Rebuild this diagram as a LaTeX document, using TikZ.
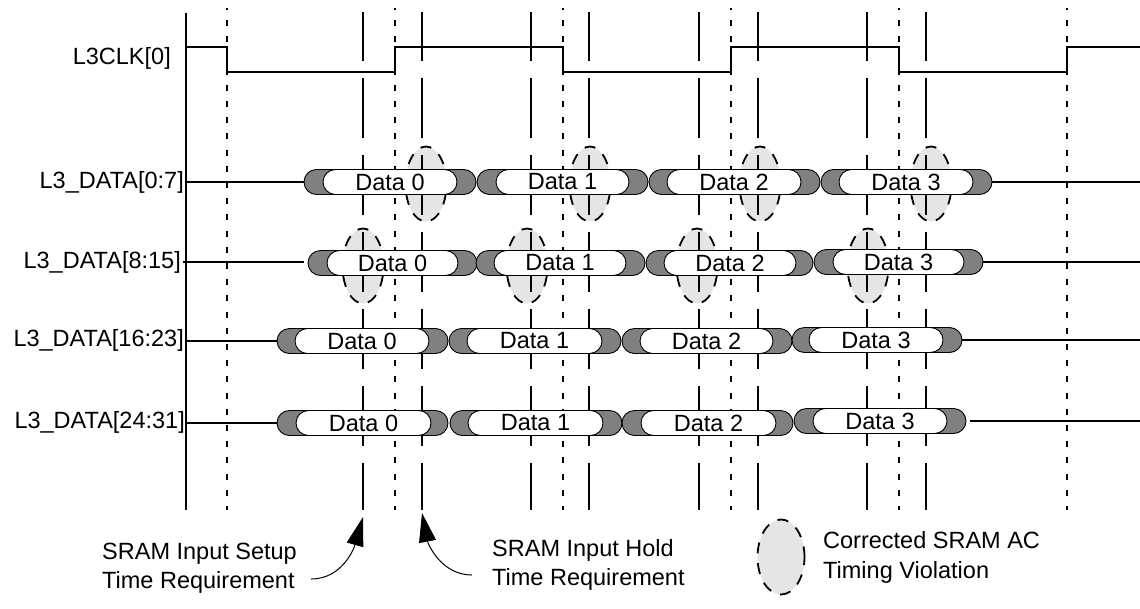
\documentclass[tikz,border=0pt]{standalone}
\usepackage{fontspec}
\setmainfont{Liberation Sans}
\usetikzlibrary{shapes.misc,arrows.meta,shapes.geometric}
\begin{document}
\begin{tikzpicture}[x=1pt,y=-1pt]
    \definecolor{bus_color}{RGB}{128,128,128}
    \definecolor{violation_color}{RGB}{229,229,229}
    \tikzstyle{every node} = [font=\fontsize{23.5}{29.5}\selectfont, inner sep=0pt]
    \tikzstyle{ann} = [draw=none, fill=none, text=black]
    \tikzstyle{sig} = [line width=1.6pt]
    \tikzstyle{edgeline} = [line width=1.6pt, dash pattern=on 6pt off 10.2pt, dash phase=4.2pt]
    \tikzstyle{setupline} = [line width=1.6pt, dash pattern=on 60pt off 17pt, dash phase=11pt]
    \tikzstyle{bus} = [draw=black, fill=bus_color, line width=0.9pt, shape=rounded rectangle, minimum height=25pt]
    \tikzstyle{cell} = [draw=black, fill=white, line width=0.9pt, shape=rounded rectangle, minimum height=25pt]
    \tikzstyle{viol} = [fill=violation_color, draw=black, line width=1.8pt, dash pattern=on 11pt off 9.7pt, dash phase=0.4pt, shape=ellipse, minimum width=41pt, minimum height=75pt]
    \path[use as bounding box] (0,0) rectangle (1140,608);
    % violation ellipses go under the timing lines
    \foreach \name/\xx/\yy in {a/426/184, b/590/184, c/760/184, d/931/184, e/363/266, f/527/266, g/697/266, h/868/266}
        \node[viol] (viol\name) at (\xx,\yy) {};
    \node[viol, minimum width=47pt] (violkey) at (781,557) {};
    % timing lines
    \foreach \xx in {227,395,563,731,899,1067}
        \draw[edgeline] (\xx,8) -- (\xx,510);
    \foreach \xx in {363,422,531,589,699,758,867,926}
        \draw[setupline] (\xx,12) -- (\xx,510);
    \draw[sig] (186,13) -- (186,510);
    % clock
    \coordinate (clkstart) at (187,47);
    \coordinate (clkend) at (1140,47);
    \draw[sig] (clkstart) -- (227,47) -- (227,72) -- (395,72) -- (395,47) -- (563,47) -- (563,72) -- (731,72) -- (731,47) -- (899,47) -- (899,72) -- (1067,72) -- (1067,47) -- (clkend);
    \node[ann, anchor=east] (l0) at (171,58) {L3CLK[0]};
    \node[ann, anchor=east] (l1) at (184,182) {L3\_DATA[0:7]};
    \node[ann, anchor=east] (l2) at (181,262) {L3\_DATA[8:15]};
    \node[ann, anchor=east] (l3) at (184,340) {L3\_DATA[16:23]};
    \node[ann, anchor=east] (l4) at (185,422) {L3\_DATA[24:31]};
    % bus cells: name/left/right/cell left/cell right/y/text
    \foreach \name/\la/\lb/\ca/\cb/\yy/\num in {
        aa/304/476/323/457/182/0, ab/477/648/496/629/182/1, ac/649/820/667/801/182/2, ad/821/992/839/973/182/3,
        ba/308/477/327/458/263/0, bb/476/645/494/626/263/1, bc/646/813/664/796/263/2, bd/814/983/833/964/262/3,
        ca/277/448/295/429/341/0, cb/449/621/467/602/341/1, cc/622/792/640/773/341/2, cd/792/962/809/943/340/3,
        da/277/448/296/431/423/0, db/450/622/468/603/423/1, dc/622/793/641/776/423/2, dd/794/966/813/947/421/3}
    {
        \pgfmathsetlengthmacro{\busw}{(\lb-\la)*1pt}
        \pgfmathsetlengthmacro{\cellw}{(\cb-\ca)*1pt}
        \node[bus, minimum width=\busw] (bus\name) at ({(\la+\lb)/2},\yy) {};
        \node[cell, minimum width=\cellw] (cell\name) at ({(\ca+\cb)/2},\yy) {Data \num};
    }
    \coordinate (starta) at (186,182);
    \coordinate (startb) at (183,262);
    \coordinate (stopb) at (304,262);
    \coordinate (startc) at (186,341);
    \coordinate (startd) at (186,423);
    \coordinate (enda) at (1140,182);
    \coordinate (endb) at (1140,262);
    \coordinate (endc) at (1140,340);
    \coordinate (endd) at (1140,421);
    \draw[sig] (starta) -- (busaa.west);
    \draw[sig] (startb) -- (stopb);
    \draw[sig] (startc) -- (busca.west);
    \draw[sig] (startd) -- (busda.west);
    \draw[sig] (busad.east) -- (enda);
    \draw[sig] (busbd.east) -- (endb);
    \draw[sig] (buscd.east) -- (endc);
    \draw[sig, shorten <=4pt] (busdd.east) -- (endd);
    % notes
    \node[ann, align=left, anchor=west] (setup) at (102,568) {SRAM Input Setup\\Time Requirement};
    \node[ann, align=left, anchor=west] (hold) at (492,565) {SRAM Input Hold\\Time Requirement};
    \node[ann, align=left, anchor=west] (key) at (823,557.5) {Corrected SRAM AC\\Timing Violation};
    \coordinate (setuptail) at (311,579);
    \coordinate (setuptip) at (363,517);
    \coordinate (holdtail) at (472,575);
    \coordinate (holdtip) at (422,513);
    \draw[line width=1pt, -{Triangle[length=29pt,width=17pt]}] (setuptail) to[out=0, in=254] (setuptip);
    \draw[line width=1pt, -{Triangle[length=29pt,width=17pt]}] (holdtail) to[out=180, in=281] (holdtip);
\end{tikzpicture}
\end{document}
